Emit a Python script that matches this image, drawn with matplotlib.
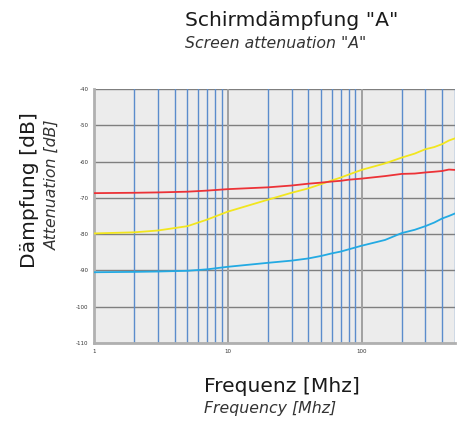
import matplotlib
matplotlib.use("Agg")
import matplotlib.pyplot as plt
from matplotlib.ticker import FixedLocator, NullFormatter

# readings
freq = [1, 2, 3, 5, 7, 10, 20, 30, 40, 50, 60, 70, 80, 100, 150, 200, 250, 300, 350, 400, 450, 500]
red = [-68.7, -68.6, -68.5, -68.3, -68.0, -67.6, -67.1, -66.6, -66.1, -65.8, -65.5, -65.3, -65.0, -64.7,
       -64.0, -63.4, -63.3, -63.0, -62.8, -62.6, -62.2, -62.3]
yellow = [-79.8, -79.5, -79.0, -77.8, -76.0, -73.8, -70.5, -68.6, -67.4, -66.2, -65.2, -64.4, -63.6, -62.3,
          -60.5, -58.9, -57.8, -56.6, -56.0, -55.2, -54.2, -53.6]
blue = [-90.5, -90.4, -90.3, -90.1, -89.7, -89.0, -87.9, -87.3, -86.7, -86.0, -85.3, -84.8, -84.2, -83.2,
        -81.6, -79.7, -78.8, -77.8, -76.8, -75.7, -75.0, -74.3]

y_ticks = [-40, -50, -60, -70, -80, -90, -100, -110]
x_major = [1, 10, 100]
x_minor = [2, 3, 4, 5, 6, 7, 8, 9, 20, 30, 40, 50, 60, 70, 80, 90, 200, 300, 400, 500]

plt.rcParams['font.family'] = ['DejaVu Sans']

fig = plt.figure(figsize=(4.57, 4.23), dpi=100)
ax = fig.add_axes([94/457, 80/423, 361/457, 254/423])
ax.set_facecolor('#ececec')

ax.set_xscale('log')
ax.set_xlim(1, 500)
ax.set_ylim(-110, -40)

# grid
for v in y_ticks:
    ax.axhline(v, color='#7f7f7f', lw=1.0, zorder=1)
for f in x_minor:
    ax.axvline(f, color='#5b8ccc', lw=1.0, zorder=1)
for f in x_major:
    ax.axvline(f, color='#a0a0a0', lw=1.4, zorder=1)

ax.plot(freq, yellow, color='#f2e61e', lw=1.3, zorder=3)
ax.plot(freq, red, color='#ec3237', lw=1.3, zorder=3)
ax.plot(freq, blue, color='#23aae3', lw=1.3, zorder=3)

ax.set_yticks(y_ticks)
ax.set_yticklabels([str(v) for v in y_ticks])
ax.xaxis.set_major_locator(FixedLocator(x_major))
ax.set_xticklabels(['1', '10', '100'])
ax.xaxis.set_minor_formatter(NullFormatter())
ax.tick_params(axis='both', which='both', length=0, labelsize=4, colors='#333333', pad=4)

for side in ['top', 'right']:
    ax.spines[side].set_visible(False)
for side in ['left', 'bottom']:
    ax.spines[side].set_color('#b0b0b0')
    ax.spines[side].set_linewidth(2.0)

# titles and axis labels
fig.text(185/457, 1 - 20/423, 'Schirmdämpfung "A"', fontsize=14.6, color='#1a1a1a', ha='left', va='center')
fig.text(185/457, 1 - 43/423, 'Screen attenuation "A"', fontsize=11.3, style='italic', color='#333333',
         ha='left', va='center')
fig.text(204/457, 1 - 386/423, 'Frequenz [Mhz]', fontsize=14.6, color='#1a1a1a', ha='left', va='center')
fig.text(204/457, 1 - 408/423, 'Frequency [Mhz]', fontsize=11.3, style='italic', color='#333333',
         ha='left', va='center')
fig.text(30/457, 1 - 268/423, 'Dämpfung [dB]', fontsize=14.6, color='#1a1a1a', rotation=90,
         ha='center', va='bottom')
fig.text(52/457, 1 - 250/423, 'Attenuation [dB]', fontsize=11.3, style='italic', color='#333333',
         rotation=90, ha='center', va='bottom')

fig.savefig('out.png', dpi=100)
